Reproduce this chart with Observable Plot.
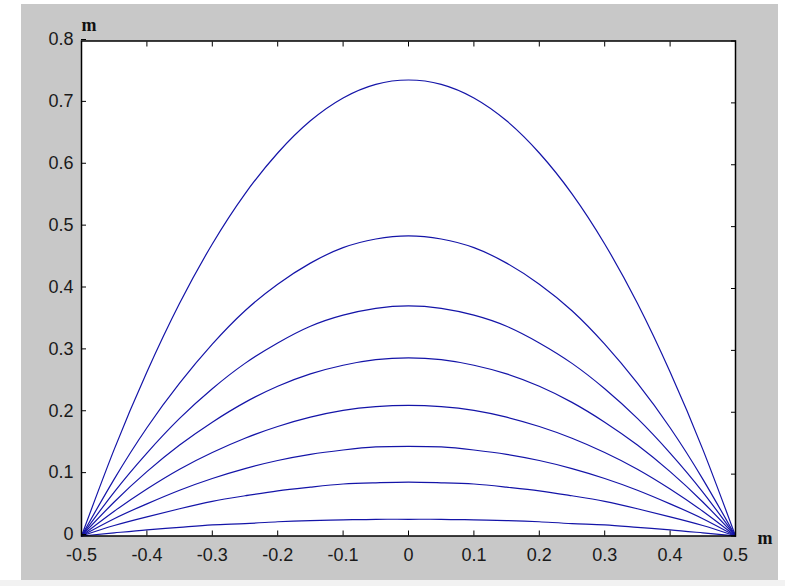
<!DOCTYPE html>
<html><head><meta charset="utf-8">
<script src="https://cdn.jsdelivr.net/npm/d3@7"></script>
<script src="https://cdn.jsdelivr.net/npm/@observablehq/plot@0.6"></script>
<style>
html,body{margin:0;padding:0;background:#fff;}
#wrap{position:relative;width:785px;height:586px;overflow:hidden;}
#bg{position:absolute;left:21px;top:4px;width:757px;height:576px;background:#c8c8c8;}
#strip{position:absolute;left:0;top:580px;width:785px;height:6px;background:#f2f2f2;}
#chart{position:absolute;left:0;top:0;}
</style></head><body>
<div id="wrap"><div id="bg"></div><div id="strip"></div><div id="chart"></div></div>
<script>
// x positions (m)
const xs = [-0.5,-0.45,-0.4,-0.35,-0.3,-0.25,-0.2,-0.15,-0.1,-0.05,0,0.05,0.1,0.15,0.2,0.25,0.3,0.35,0.4,0.45,0.5];
// heights (m) for each of the eight curves
const curve1 = [0,0.140,0.265,0.376,0.472,0.553,0.619,0.671,0.708,0.730,0.737,0.730,0.708,0.671,0.619,0.553,0.472,0.376,0.265,0.140,0];
const curve2 = [0,0.092,0.175,0.247,0.310,0.364,0.407,0.441,0.466,0.480,0.485,0.480,0.466,0.441,0.407,0.364,0.310,0.247,0.175,0.092,0];
const curve3 = [0,0.071,0.134,0.190,0.238,0.279,0.312,0.339,0.357,0.368,0.372,0.368,0.357,0.339,0.312,0.279,0.238,0.190,0.134,0.071,0];
const curve4 = [0,0.055,0.104,0.147,0.184,0.216,0.242,0.262,0.276,0.285,0.288,0.285,0.276,0.262,0.242,0.216,0.184,0.147,0.104,0.055,0];
const curve5 = [0,0.040,0.076,0.108,0.135,0.158,0.177,0.192,0.203,0.209,0.211,0.209,0.203,0.192,0.177,0.158,0.135,0.108,0.076,0.040,0];
const curve6 = [0,0.028,0.052,0.074,0.093,0.109,0.122,0.132,0.139,0.144,0.145,0.144,0.139,0.132,0.122,0.109,0.093,0.074,0.052,0.028,0];
const curve7 = [0,0.017,0.031,0.044,0.056,0.065,0.073,0.079,0.084,0.086,0.087,0.086,0.084,0.079,0.073,0.065,0.056,0.044,0.031,0.017,0];
const curve8 = [0,0.005,0.010,0.014,0.018,0.020,0.023,0.025,0.026,0.027,0.027,0.027,0.026,0.025,0.023,0.020,0.018,0.014,0.010,0.005,0];
const curves = [curve1,curve2,curve3,curve4,curve5,curve6,curve7,curve8];
// tick values
const xTicks = [-0.5,-0.4,-0.3,-0.2,-0.1,0,0.1,0.2,0.3,0.4,0.5];
const yTicks = [0,0.1,0.2,0.3,0.4,0.5,0.6,0.7,0.8];
const unitLabel = "m";

const rows = [];
curves.forEach((c, i) => c.forEach((v, j) => rows.push({curve: i, x: xs[j], y: v})));
const fmt = d => d === 0 ? "0" : d.toFixed(1);

const plot = Plot.plot({
  width: 785, height: 586,
  marginLeft: 81, marginRight: 50, marginTop: 40.5, marginBottom: 50.5,
  style: {background: "transparent", fontFamily: "'Liberation Sans', Arial, sans-serif", fontSize: "18px", color: "#1a1a1a"},
  x: {domain: [-0.5, 0.5]},
  y: {domain: [0, 0.8]},
  marks: [
    Plot.frame({fill: "white", stroke: null}),
    Plot.line(rows, {x: "x", y: "y", z: "curve", stroke: "#1414a8", strokeWidth: 1.2, curve: "natural"}),
    Plot.frame({stroke: "black", strokeWidth: 1.5}),
    Plot.axisX(xTicks, {anchor: "bottom", tickSize: -5, tickPadding: 17, tickFormat: fmt, label: null, fontSize: 18, stroke: "black"}),
    Plot.axisX(xTicks, {anchor: "top", tickSize: -5, tickFormat: () => "", label: null, stroke: "black"}),
    Plot.axisY(yTicks, {anchor: "left", tickSize: -5, tickPadding: 13, tickFormat: fmt, label: null, fontSize: 18, dy: -1.5, stroke: "black"}),
    Plot.axisY(yTicks, {anchor: "right", tickSize: -5, tickFormat: () => "", label: null, stroke: "black"}),
    Plot.text([unitLabel], {frameAnchor: "top-left", textAnchor: "start", lineAnchor: "bottom", dx: 0, dy: -10, fontFamily: "'Liberation Serif', 'Times New Roman', serif", fontWeight: "bold", fontSize: 18, fill: "#111"}),
    Plot.text([unitLabel], {frameAnchor: "bottom-right", textAnchor: "start", lineAnchor: "bottom", dx: 22, dy: 8, fontFamily: "'Liberation Serif', 'Times New Roman', serif", fontWeight: "bold", fontSize: 18, fill: "#111"})
  ]
});
document.getElementById("chart").appendChild(plot);
</script>
</body></html>
